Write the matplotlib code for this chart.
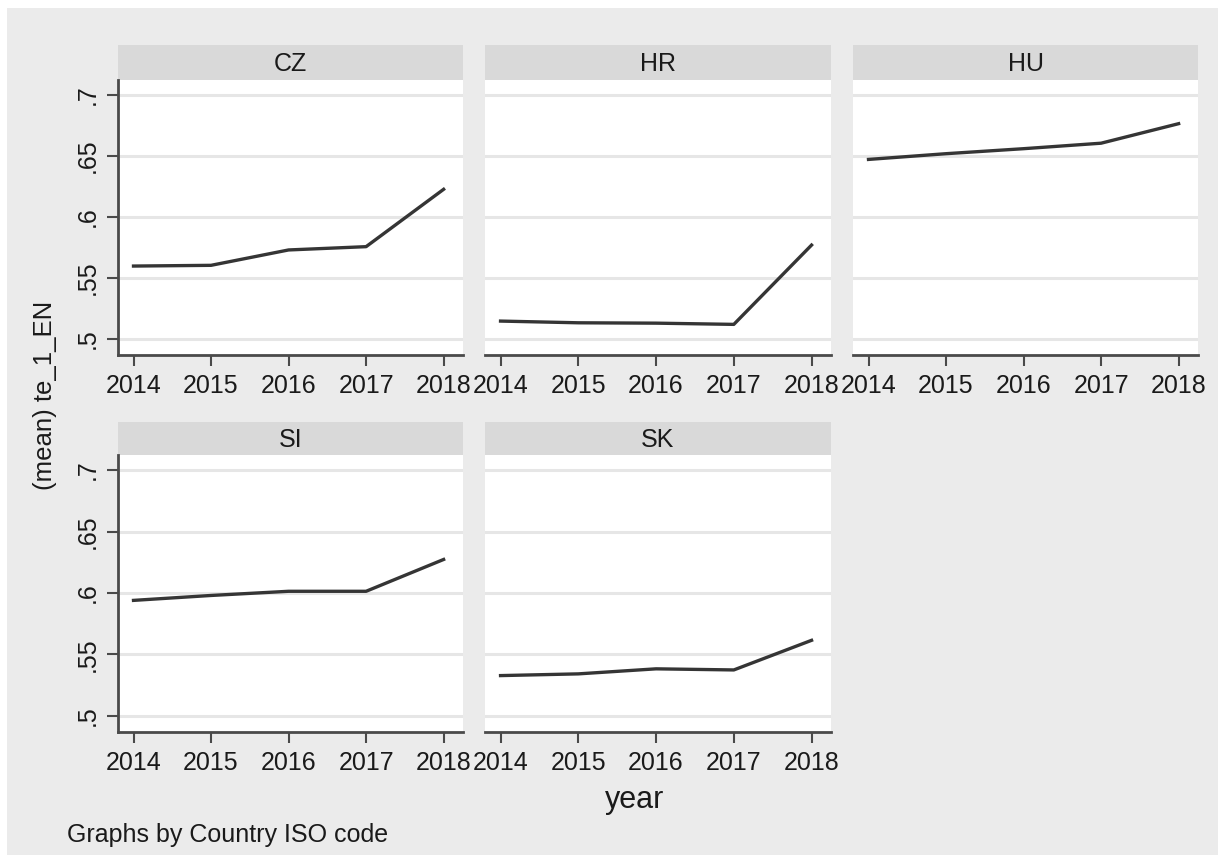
import numpy as np
import matplotlib.pyplot as plt
from matplotlib.patches import Rectangle

plt.rcParams['font.family'] = ['Liberation Sans', 'DejaVu Sans']

years = [2014, 2015, 2016, 2017, 2018]
countries = ['CZ', 'HR', 'HU', 'SI', 'SK']
cz = [0.5598, 0.5604, 0.5730, 0.5757, 0.6227]
hr = [0.5147, 0.5133, 0.5130, 0.5120, 0.5770]
hu = [0.6472, 0.6519, 0.6560, 0.6605, 0.6765]
si = [0.5940, 0.5980, 0.6014, 0.6014, 0.6273]
sk = [0.5328, 0.5342, 0.5383, 0.5374, 0.5615]
series = [cz, hr, hu, si, sk]
yticks = [0.5, 0.55, 0.6, 0.65, 0.7]
ytick_labels = ['.5', '.55', '.6', '.65', '.7']

W, H = 1223, 855
BG = '#ebebeb'
STRIP = '#d9d9d9'
GRID = '#e6e6e6'
LINE = '#353535'
AXC = '#4a4a4a'

fig = plt.figure(figsize=(W / 100, H / 100), dpi=100)
fig.patch.set_facecolor('white')
fig.patches.append(Rectangle((7 / W, 0), (1218 - 7) / W, 1 - 8 / H,
                             transform=fig.transFigure, facecolor=BG,
                             edgecolor='none', zorder=-10))


def frac(x0, y0, x1, y1):
    return [x0 / W, 1 - y1 / H, (x1 - x0) / W, (y1 - y0) / H]


cols = [(118, 463), (485, 831), (853, 1198)]
rows = [(45, 80, 355), (422, 455, 732)]

for i, (name, vals) in enumerate(zip(countries, series)):
    r, c = divmod(i, 3)
    x0, x1 = cols[c]
    s0, s1, yb = rows[r]

    # strip with the country code
    sax = fig.add_axes(frac(x0, s0, x1, s1))
    sax.set_facecolor(STRIP)
    sax.set_xticks([])
    sax.set_yticks([])
    for sp in sax.spines.values():
        sp.set_visible(False)
    sax.text(0.5, 0.45, name, ha='center', va='center', fontsize=18,
             color='#1a1a1a', transform=sax.transAxes)

    ax = fig.add_axes(frac(x0, s1, x1, yb))
    ax.set_facecolor('white')
    ax.set_xlim(2013.8, 2018.25)
    ax.set_ylim(0.4869, 0.7123)
    for y in yticks:
        ax.axhline(y, color=GRID, lw=2.2, zorder=1)
    ax.plot(years, vals, color=LINE, lw=2.4, zorder=3)

    ax.spines['top'].set_visible(False)
    ax.spines['right'].set_visible(False)
    ax.spines['bottom'].set_color(AXC)
    ax.spines['bottom'].set_linewidth(2.0)
    ax.set_xticks(years)
    ax.set_xticklabels([str(y) for y in years])
    ax.tick_params(axis='x', length=8, width=1.5, color=AXC, pad=6,
                   labelsize=18, labelcolor='#1a1a1a')
    ax.set_yticks(yticks)
    if c == 0:
        ax.spines['left'].set_color(AXC)
        ax.spines['left'].set_linewidth(2.0)
        ax.set_yticklabels(ytick_labels, rotation=90, va='center')
        ax.tick_params(axis='y', length=8, width=1.5, color=AXC, pad=5,
                       labelsize=18, labelcolor='#1a1a1a')
    else:
        ax.spines['left'].set_visible(False)
        ax.tick_params(axis='y', length=0, labelleft=False)

fig.text(45 / W, 1 - 395 / H, '(mean) te_1_EN', rotation=90, ha='center',
         va='center', fontsize=18.5, color='#1a1a1a')
fig.text(635 / W, 1 - 800 / H, 'year', ha='center', va='center',
         fontsize=22, color='#1a1a1a')
fig.text(67 / W, 1 - 835 / H, 'Graphs by Country ISO code', ha='left',
         va='center', fontsize=18, color='#1a1a1a')

fig.savefig('out.png', dpi=100)
